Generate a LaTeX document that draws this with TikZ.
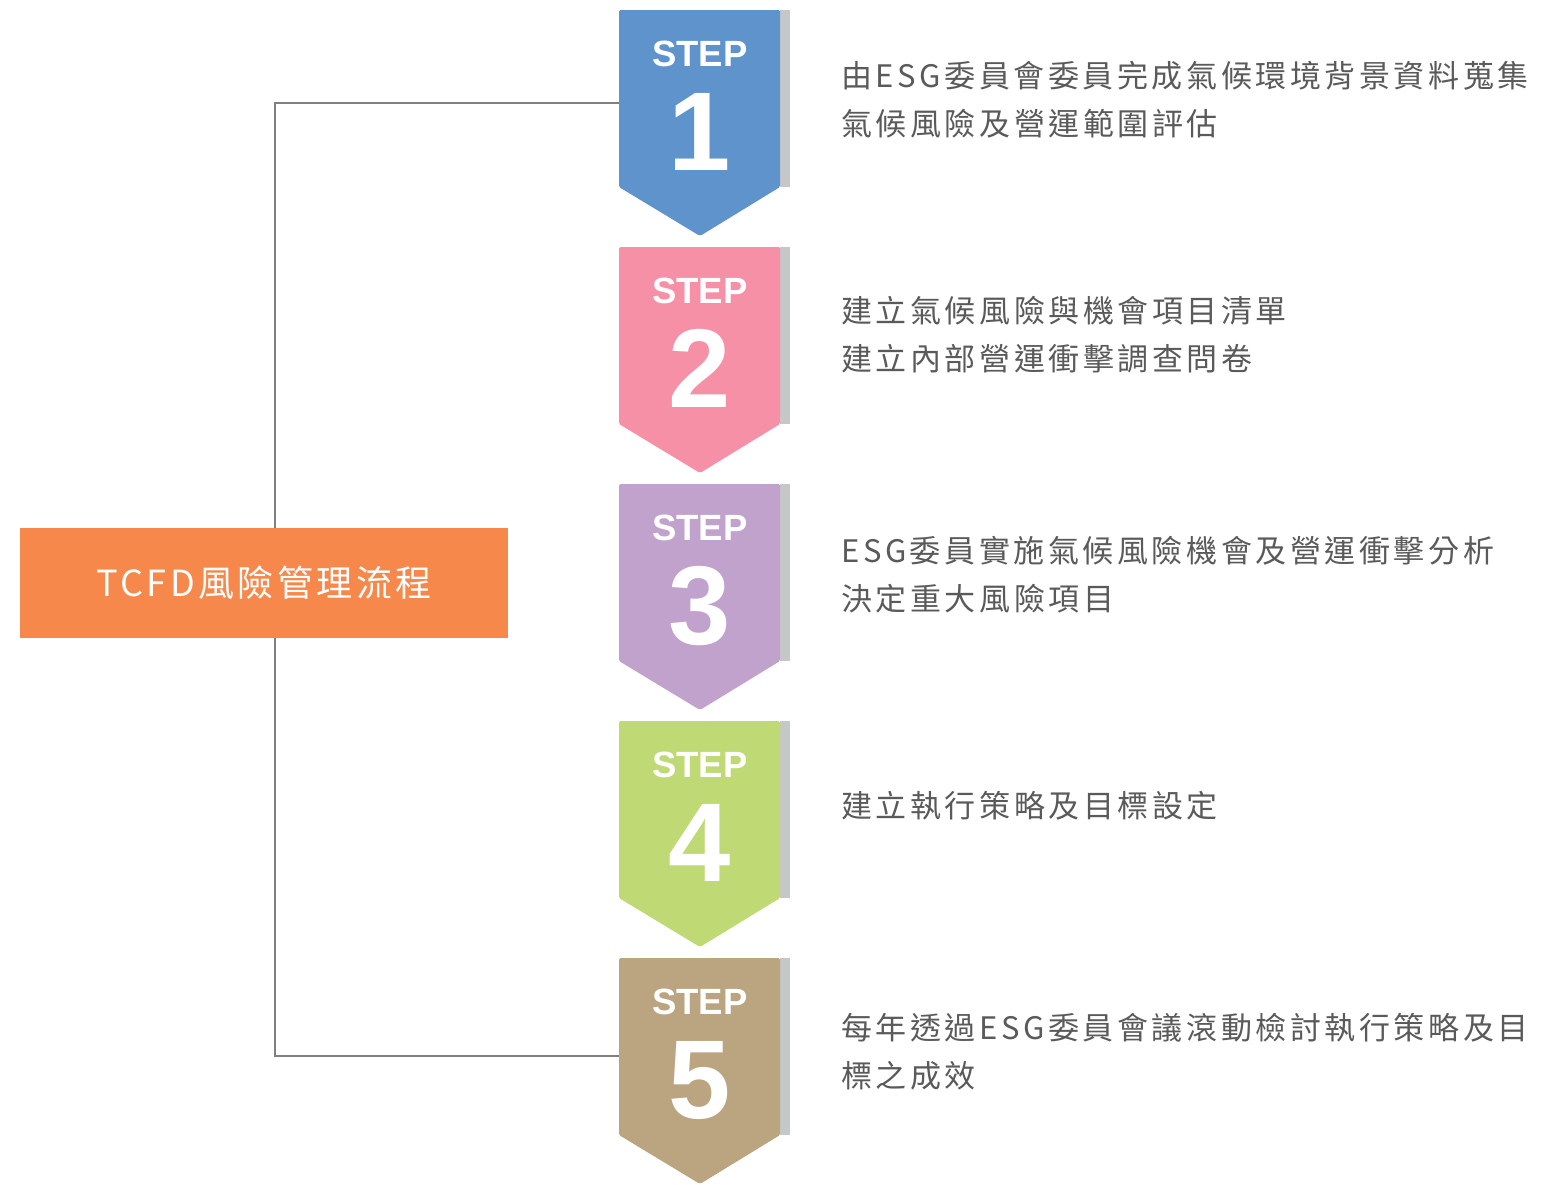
\documentclass[tikz,border=0pt]{standalone}
\usepackage{fontspec}
\newfontfamily\cjkfont{Noto Sans CJK TC}
\newfontfamily\stepfont{Liberation Sans}
\definecolor{cA}{HTML}{5E93CB}
\definecolor{cB}{HTML}{F590A6}
\definecolor{cC}{HTML}{C0A2CC}
\definecolor{cD}{HTML}{BFDA74}
\definecolor{cE}{HTML}{BAA580}
\definecolor{orangebox}{HTML}{F5884A}
\definecolor{graybar}{HTML}{C6C7C9}
\definecolor{linegray}{HTML}{808080}
\definecolor{txtgray}{HTML}{5A5A5A}
\tikzset{
  desc/.style={anchor=base west, inner sep=0pt, text=txtgray,
    font={\cjkfont\fontsize{31}{48}\selectfont\addfontfeature{LetterSpace=11.5}}, align=left},
  steplabel/.style={anchor=base, inner sep=0pt, text=white,
    font={\stepfont\bfseries\fontsize{36.5}{36}\selectfont}},
  stepnum/.style={anchor=base, inner sep=0pt, text=white,
    font={\stepfont\bfseries\fontsize{112}{112}\selectfont}},
  conn/.style={draw=linegray, line width=1.1pt}
}
\begin{document}
\begin{tikzpicture}[x=1pt,y=-1pt]
\useasboundingbox (0,0) rectangle (1542,1184);
\foreach \k/\c in {1/cA,2/cB,3/cC,4/cD,5/cE}{
  \pgfmathsetmacro{\t}{10+237*(\k-1)}
  \fill[graybar] (780,\t) rectangle (790,\t+177);
  \fill[\c, rounded corners=1.5pt] (619,\t) -- (780,\t) -- (780,\t+177) -- (700,\t+226) -- (619,\t+177) -- cycle;
  \node[steplabel] (st\k) at (700,\t+56.5) {STEP};
  \node[stepnum] (num\k) at (700,\t+160.5) {\k};
}
\coordinate (s1) at (619,103);
\coordinate (s5) at (619,1056);
\node[fill=orangebox, minimum width=488pt, minimum height=110pt, inner sep=0pt, text=white,
  font={\cjkfont\fontsize{36}{36}\selectfont\addfontfeature{LetterSpace=9.5}}]
  (tcfd) at (264,583) {\raisebox{2pt}{TCFD風險管理流程}};
\coordinate (jt) at (275,528);
\coordinate (jb) at (275,638);
\draw[conn] (jt) |- (s1);
\draw[conn] (jb) |- (s5);
\node[desc] (d1) at (841,135) {由ESG委員會委員完成氣候環境背景資料蒐集\\氣候風險及營運範圍評估};
\node[desc] (d2) at (841,370) {建立氣候風險與機會項目清單\\建立內部營運衝擊調查問卷};
\node[desc] (d3) at (841,610) {ESG委員實施氣候風險機會及營運衝擊分析\\決定重大風險項目};
\node[desc] (d4) at (841,817) {建立執行策略及目標設定};
\node[desc] (d5) at (841,1087) {每年透過ESG委員會議滾動檢討執行策略及目\\標之成效};
\end{tikzpicture}
\end{document}
